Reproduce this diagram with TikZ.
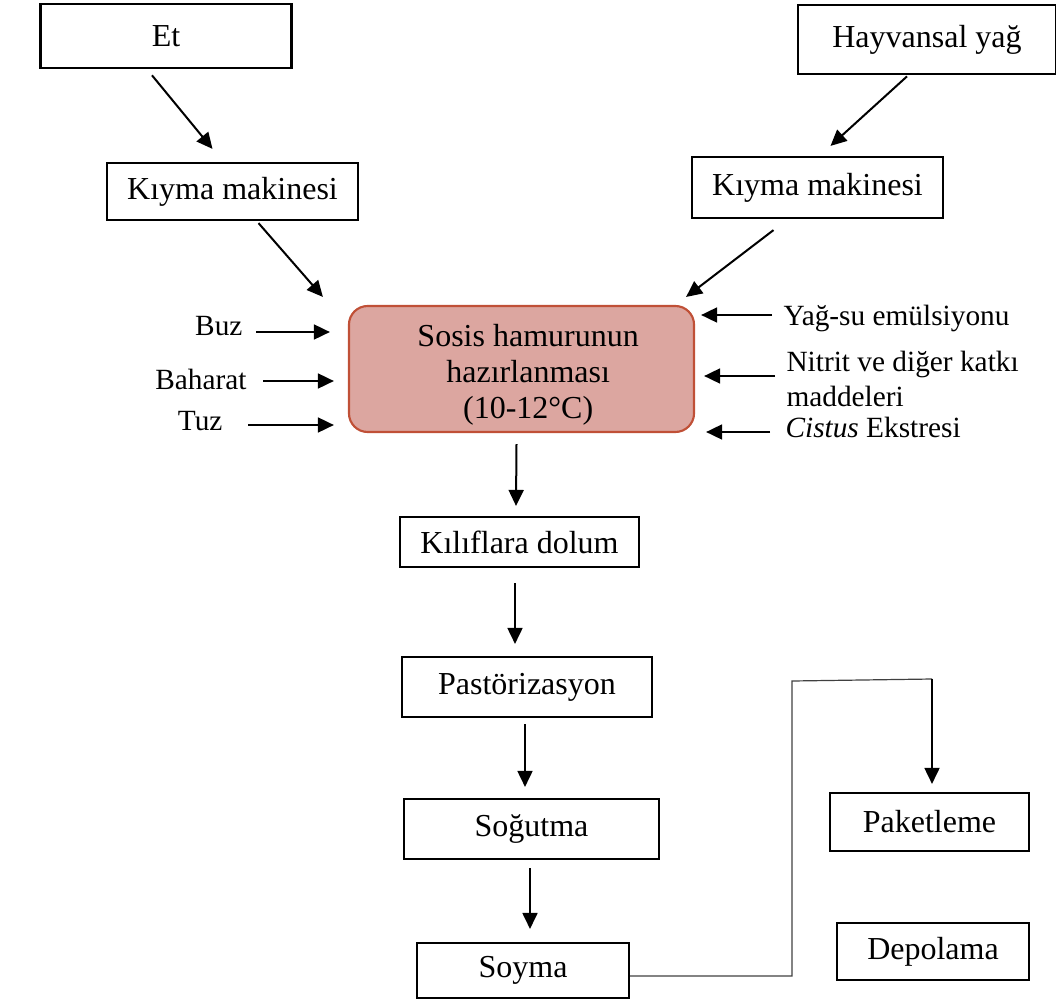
\documentclass[tikz,border=0pt]{standalone}
\usepackage{fontspec}
\setmainfont{Liberation Serif}
\usetikzlibrary{arrows.meta,calc}
\definecolor{mixfill}{RGB}{220,166,160}
\definecolor{mixdraw}{RGB}{192,80,55}

\begin{document}
\begin{tikzpicture}[
		x={(0.375pt,0)}, y={(0,-0.375pt)},
		font=\fontsize{12}{13.5}\selectfont,
		stepnode/.style={shape=rectangle, draw=black, line width=0.8pt, align=center, inner sep=0pt},
		mixnode/.style={shape=rectangle, rounded corners=7pt, align=center, draw=mixdraw, fill=mixfill, line width=0.8pt, inner sep=0pt},
		inlabel/.style={inner sep=0pt, align=left, font=\fontsize{11}{13.1}\selectfont},
		flowarrow/.style={-{Triangle[length=6pt,width=5.6pt]}, line width=0.75pt}
		]
		\useasboundingbox (0,0) rectangle (1056,1003);
		% raw materials and mincing
		\node[stepnode, line width=1pt, minimum width=94.1pt, minimum height=24pt] (et) at (166,36) {Et};
		\node[stepnode, minimum width=94.1pt, minimum height=21.4pt] (kiymaA) at (232.5,191.5) {Kıyma makinesi};
		\node[stepnode, line width=1pt, minimum width=96.8pt, minimum height=25.9pt] (hayvan) at (927,39.5) {Hayvansal yağ};
		\node[stepnode, minimum width=94.1pt, minimum height=22.9pt] (kiymaB) at (817.5,187.5) {Kıyma makinesi};
		% sausage batter
		\node[mixnode, minimum width=129.4pt, minimum height=47.25pt] (hamur) at (521.5,369) {\rule{0pt}{13pt}\hspace*{5pt}Sosis hamurunun\\\hspace*{5pt}hazırlanması\\\hspace*{5pt}(10-12°C)};
		% additions
		\node[inlabel, anchor=base east] (buz) at (243,335) {Buz};
		\node[inlabel, anchor=base east] (baharat) at (247,389) {Baharat};
		\node[inlabel, anchor=base east] (tuz) at (223,430) {Tuz};
		\node[inlabel, anchor=base west] (emulsiyon) at (783,325) {Yağ-su emülsiyonu};
		\node[inlabel, anchor=north west] (nitrit) at (786,351) {Nitrit ve diğer katkı\\maddeleri};
		\node[inlabel, anchor=base west] (cistus) at (785,437) {\textit{Cistus} Ekstresi};
		% processing line
		\node[stepnode, minimum width=89.6pt, minimum height=18.75pt] (kilif) at (519.5,542) {Kılıflara dolum};
		\node[stepnode, minimum width=93.75pt, minimum height=22.5pt] (pastor) at (527,687) {Pastörizasyon};
		\node[stepnode, minimum width=95.6pt, minimum height=22.5pt] (sogut) at (531.5,829) {Soğutma};
		\node[stepnode, minimum width=79.5pt, minimum height=20.6pt] (soyma) at (523,970.5) {Soyma};
		\node[stepnode, minimum width=74.6pt, minimum height=21.75pt] (paket) at (929.5,822) {Paketleme};
		\node[stepnode, minimum width=72pt, minimum height=21.4pt] (depo) at (933,951.5) {Depolama};
		\coordinate (bend) at (792,681);
		\coordinate (turn) at (932,679);

		\draw[flowarrow] ($(et.south)+(-14,6)$) -- ($(kiymaA.north)+(-20,-13)$);
		\draw[flowarrow] ($(kiymaA.south)+(26,2)$) -- ($(hamur.north west)+(-25,-8)$);
		\draw[flowarrow] ($(hayvan.south)+(-20,1)$) -- ($(kiymaB.north)+(13,-10)$);
		\draw[flowarrow] ($(kiymaB.south)+(-44,11)$) -- ($(hamur.north east)+(-9,-8)$);
		\draw[flowarrow] ($(buz.base east)+(13,-3)$) -- ($(hamur.west |- buz.base)+(-18,-3)$);
		\draw[flowarrow] ($(baharat.base east)+(16,-8)$) -- ($(hamur.west |- baharat.base)+(-14,-8)$);
		\draw[flowarrow] ($(tuz.base east)+(25,-5)$) -- ($(hamur.west |- tuz.base)+(-14,-5)$);
		\draw[flowarrow] ($(emulsiyon.base west)+(-11,-10)$) -- ($(hamur.east |- emulsiyon.base)+(6,-10)$);
		\draw[flowarrow] ($(nitrit.north west)+(-11,25)$) -- ($(hamur.east |- nitrit.north)+(9,25)$);
		\draw[flowarrow] ($(cistus.base west)+(-15,-5)$) -- ($(hamur.east |- cistus.base)+(11,-5)$);
		\draw[flowarrow] ($(hamur.south)+(-5,11)$) -- ($(kilif.north)+(-3.5,-10)$);
		\draw[flowarrow] ($(kilif.south)+(-4.5,15)$) -- ($(pastor.north)+(-12,-12)$);
		\draw[flowarrow] ($(pastor.south)+(-2,6)$) -- ($(sogut.north)+(-6.5,-11)$);
		\draw[flowarrow] ($(sogut.south)+(-1.5,8)$) -- ($(soyma.north)+(7,-13)$);
		\draw[black!75, line width=0.45pt] ($(soyma.east)+(0,5.5)$) -| (bend) -- (turn);
		\draw[flowarrow] (turn) -- ($(paket.north)+(2.5,-8)$);
	\end{tikzpicture}
\end{document}
